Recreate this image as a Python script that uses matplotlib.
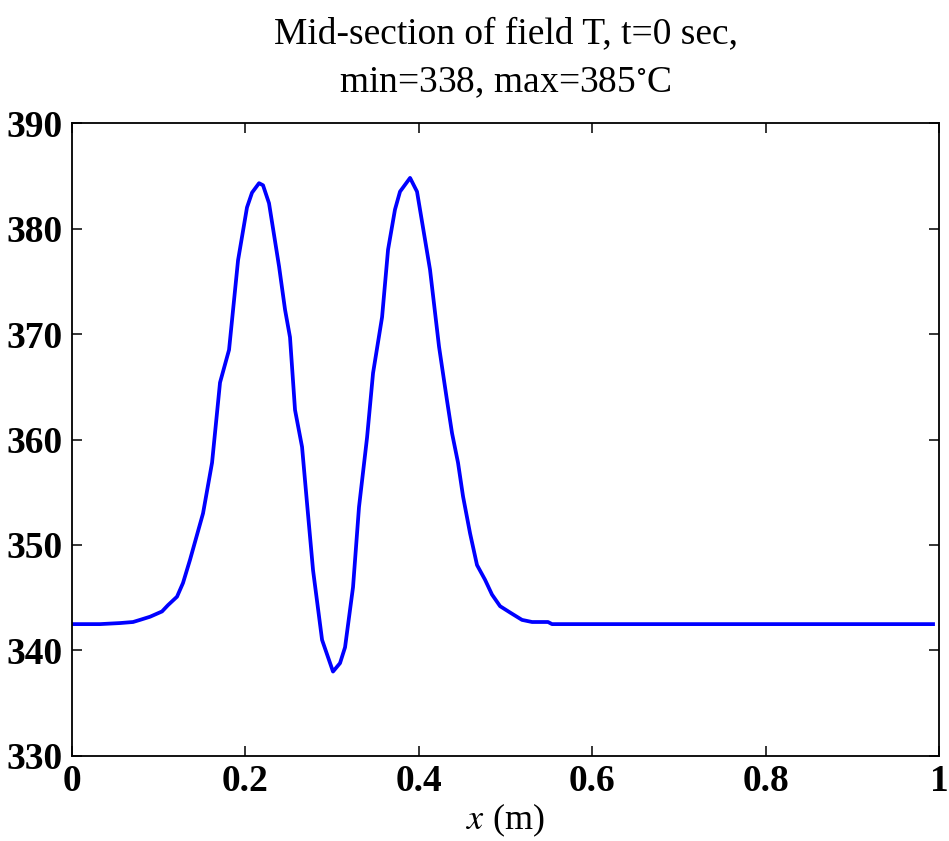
import numpy as np
import matplotlib
matplotlib.use("Agg")
import matplotlib.pyplot as plt

plt.rcParams['font.family'] = ['Liberation Serif', 'DejaVu Serif']
plt.rcParams['mathtext.fontset'] = 'stix'

# mid-section profile
x_pos = [0.0, 0.0323, 0.0554, 0.0704, 0.0784, 0.0900, 0.1038, 0.1107, 0.1211,
         0.1280, 0.1361, 0.1511, 0.1615, 0.1707, 0.1811, 0.1915, 0.2018, 0.2076,
         0.2157, 0.2203, 0.2272, 0.2388, 0.2457, 0.2514, 0.2572, 0.2653, 0.2710,
         0.2780, 0.2884, 0.3010, 0.3091, 0.3149, 0.3241, 0.3310, 0.3403, 0.3472,
         0.3576, 0.3645, 0.3725, 0.3783, 0.3899, 0.3979, 0.4048, 0.4129, 0.4233,
         0.4325, 0.4383, 0.4452, 0.4510, 0.4591, 0.4671, 0.4764, 0.4844, 0.4937,
         0.5052, 0.5190, 0.5306, 0.5490, 0.5536, 0.9931]
temp = [342.5, 342.5, 342.6, 342.7, 342.9, 343.2, 343.7, 344.3, 345.1,
        346.4, 348.6, 353.0, 357.8, 365.4, 368.5, 377.0, 382.0, 383.4,
        384.3, 384.1, 382.4, 376.4, 372.3, 369.7, 362.8, 359.3, 354.0,
        347.6, 341.0, 338.0, 338.8, 340.3, 346.0, 353.6, 360.2, 366.3,
        371.6, 378.0, 381.8, 383.5, 384.8, 383.5, 380.1, 376.1, 368.8,
        363.7, 360.6, 357.8, 354.6, 351.1, 348.1, 346.7, 345.3, 344.2,
        343.6, 342.9, 342.7, 342.7, 342.5, 342.5]

x_ticks = [0, 0.2, 0.4, 0.6, 0.8, 1]
x_labels = ['0', '0.2', '0.4', '0.6', '0.8', '1']
y_ticks = [330, 340, 350, 360, 370, 380, 390]

fig = plt.figure(figsize=(9.49, 8.41), dpi=100)
ax = fig.add_axes([0.0759, 0.1011, 0.9136, 0.7526])

ax.plot(x_pos, temp, color=(0, 0, 1), linewidth=2.7)

ax.set_xlim(0, 1)
ax.set_ylim(330, 390)
ax.set_xticks(x_ticks)
ax.set_xticklabels(x_labels)
ax.set_yticks(y_ticks)
ax.tick_params(direction='in', length=7, width=1.1, top=True, right=True,
               labelsize=27)
ax.tick_params(axis='x', pad=6)
ax.tick_params(axis='y', pad=7)
for lab in ax.get_xticklabels() + ax.get_yticklabels():
    lab.set_fontweight('bold')
for sp in ax.spines.values():
    sp.set_linewidth(1.3)

ax.set_xlabel('$x$ (m)', fontsize=26, labelpad=2)
ax.set_title('Mid-section of field T, t=0 sec,\nmin=338, max=385$^{\\circ}$C',
             fontsize=27, linespacing=1.55, pad=22)

fig.savefig('out.png', dpi=100)
